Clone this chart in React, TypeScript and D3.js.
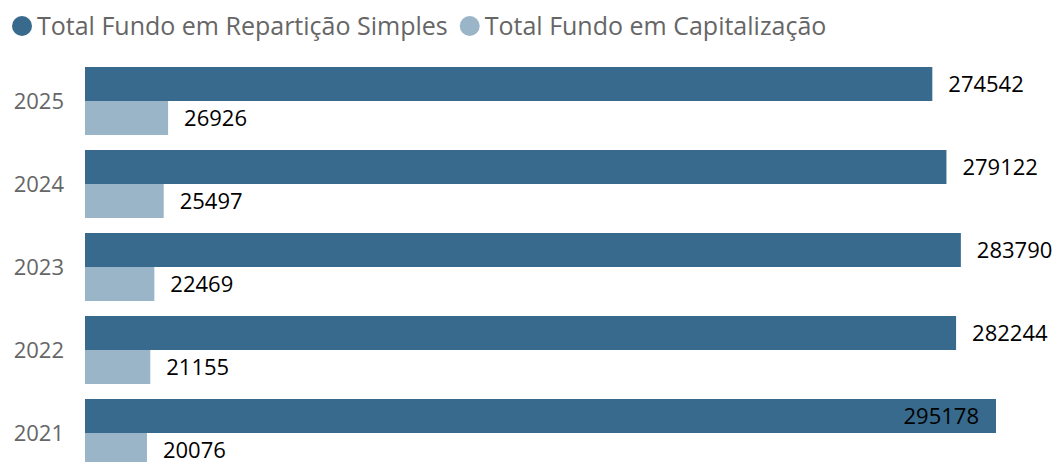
import React, { useEffect, useRef } from 'react'
import * as d3 from 'd3'

// categorias (anos) de cima para baixo
const years = ['2025', '2024', '2023', '2022', '2021']
const seriesNames = ['Total Fundo em Repartição Simples', 'Total Fundo em Capitalização']
const reparticao = [274542, 279122, 283790, 282244, 295178]
const capitalizacao = [26926, 25497, 22469, 21155, 20076]

const colors = ['#376a8c', '#9ab5c8']
const W = 1058
const H = 462
const FONT = '"Segoe UI", "Open Sans", sans-serif'

export default function App() {
	const ref = useRef<SVGSVGElement>(null)

	useEffect(() => {
		const svg = d3.select(ref.current)
		svg.selectAll('*').remove()

		const x = d3.scaleLinear().domain([0, d3.max(reparticao) as number]).range([85, 996])
		const y = d3.scaleBand().domain(years).range([67, 467]).paddingInner(15 / 83).paddingOuter(0)
		const ySub = d3.scaleBand().domain(seriesNames).range([0, y.bandwidth()])

		// legenda
		const legend = svg.append('g')
		let lx = 12
		seriesNames.forEach((name, i) => {
			legend.append('circle').attr('cx', lx + 10).attr('cy', 26).attr('r', 10).attr('fill', colors[i])
			const t = legend
				.append('text')
				.attr('x', lx + 25)
				.attr('y', 26)
				.attr('dy', '0.35em')
				.attr('fill', '#666')
				.style('font-family', FONT)
				.style('font-size', '25px')
				.text(name)
			const w = (t.node() as SVGTextElement).getComputedTextLength()
			lx = lx + 25 + w + 12
		})

		// eixo Y (anos)
		svg.append('g')
			.selectAll('text')
			.data(years)
			.join('text')
			.attr('x', 64)
			.attr('y', d => (y(d) as number) + y.bandwidth() / 2)
			.attr('dy', '0.35em')
			.attr('text-anchor', 'end')
			.attr('fill', '#666')
			.style('font-family', FONT)
			.style('font-size', '22px')
			.text(d => d)

		const rows = years.map((yr, i) => [
			{ yr, s: seriesNames[0], v: reparticao[i], c: colors[0] },
			{ yr, s: seriesNames[1], v: capitalizacao[i], c: colors[1] },
		]).flat()

		const g = svg.append('g')
		g.selectAll('rect')
			.data(rows)
			.join('rect')
			.attr('x', x(0))
			.attr('y', d => (y(d.yr) as number) + (ySub(d.s) as number))
			.attr('width', d => x(d.v) - x(0))
			.attr('height', ySub.bandwidth())
			.attr('fill', d => d.c)

		// rótulos de dados
		g.selectAll('text.lbl')
			.data(rows)
			.join('text')
			.attr('class', 'lbl')
			.attr('y', d => (y(d.yr) as number) + (ySub(d.s) as number) + ySub.bandwidth() / 2)
			.attr('dy', '0.35em')
			.attr('fill', '#000')
			.style('font-family', FONT)
			.style('font-size', '22px')
			.text(d => String(d.v))
			.each(function (d) {
				const el = this as SVGTextElement
				const w = el.getComputedTextLength()
				const end = x(d.v)
				if (end + 16 + w <= W) {
					d3.select(el).attr('x', end + 16).attr('text-anchor', 'start')
				} else {
					d3.select(el).attr('x', end - 17).attr('text-anchor', 'end')
				}
			})
	}, [])

	return (
		<svg
			ref={ref}
			width={W}
			height={H}
			style={{ position: 'absolute', left: 0, top: 0, background: '#fff' }}
		/>
	)
}
